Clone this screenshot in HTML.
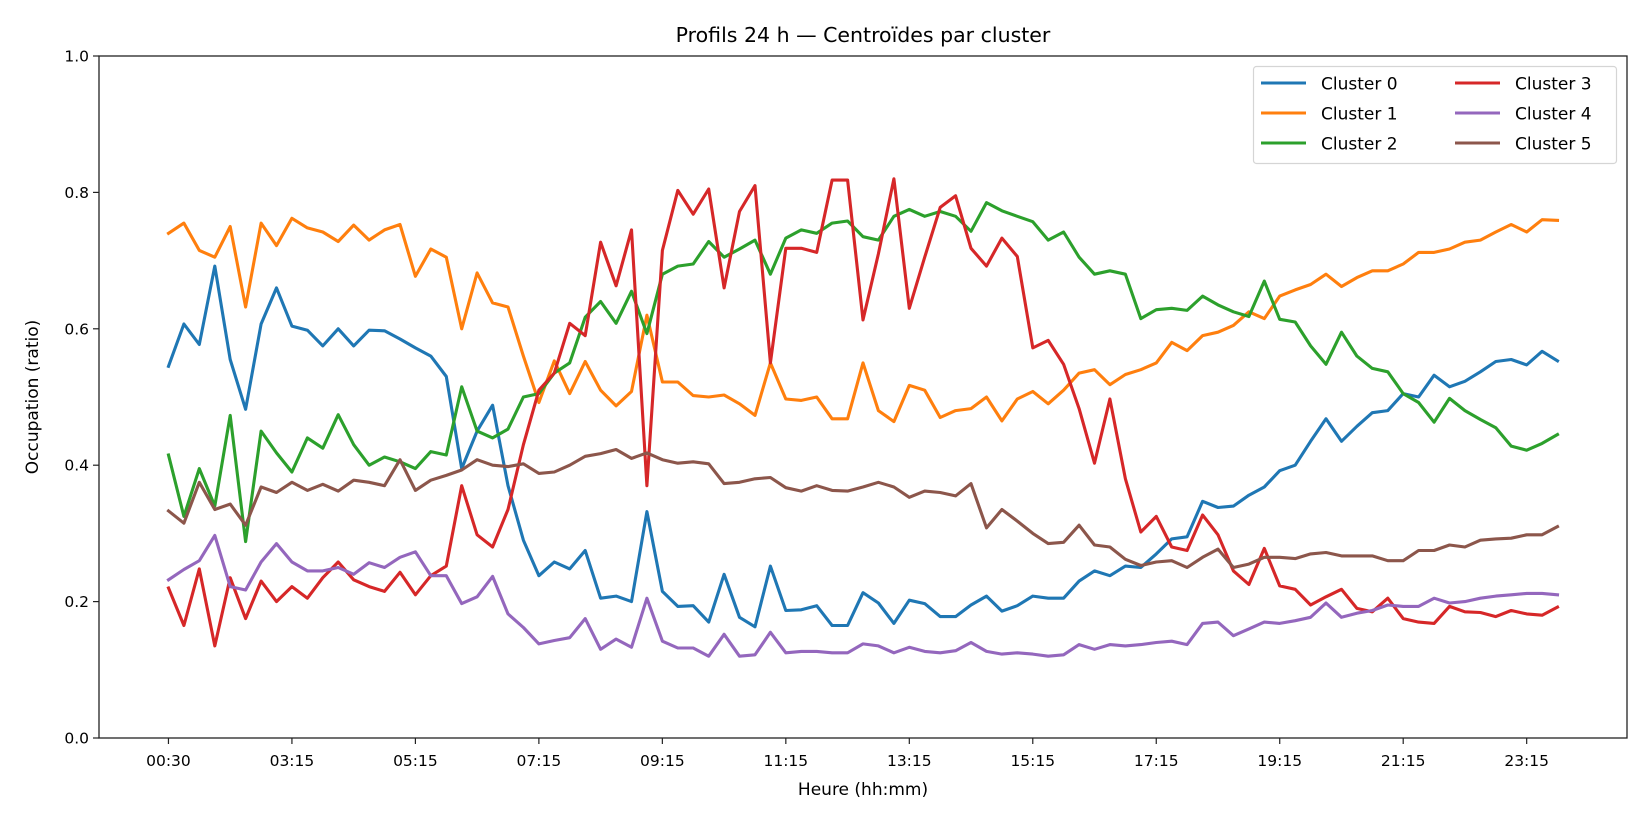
<!DOCTYPE html>
<html><head><meta charset="utf-8">
<style>
html,body{margin:0;padding:0;background:#fff;}
svg{display:block;font-family:"DejaVu Sans","Liberation Sans",sans-serif;}
</style></head>
<body>
<svg id="chart" width="1650" height="825" viewBox="0 0 1650 825" xmlns="http://www.w3.org/2000/svg">
<rect x="0" y="0" width="1650" height="825" fill="#fff"/>
<text x="863" y="42" font-size="20.5" text-anchor="middle" fill="#000">Profils 24 h — Centroïdes par cluster</text>
<g id="series"></g>
<g id="axes"></g>
<rect x="99" y="56" width="1528" height="682" fill="none" stroke="#222" stroke-width="1.3"/>
<text x="863" y="795" font-size="17" text-anchor="middle">Heure (hh:mm)</text>
<text transform="translate(38,397) rotate(-90)" font-size="17" text-anchor="middle">Occupation (ratio)</text>
<g id="legend"></g>
</svg>
<script>
const tickLabels = ["00:30","03:15","05:15","07:15","09:15","11:15","13:15","15:15","17:15","19:15","21:15","23:15"];
const yTicks = [0,0.2,0.4,0.6,0.8,1.0];
const seriesNames = ["Cluster 0","Cluster 1","Cluster 2","Cluster 3","Cluster 4","Cluster 5"];
const seriesColors = ["#1f77b4","#ff7f0e","#2ca02c","#d62728","#9467bd","#8c564b"];
const cluster0 = [0.545,0.607,0.577,0.692,0.555,0.482,0.607,0.66,0.604,0.598,
0.575,0.60,0.575,0.598,0.597,0.585,0.572,0.56,0.53,0.395,
0.45,0.488,0.37,0.29,0.238,0.258,0.248,0.275,0.205,0.208,
0.20,0.332,0.215,0.193,0.194,0.17,0.24,0.177,0.163,0.252,
0.187,0.188,0.194,0.165,0.165,0.213,0.198,0.168,0.202,0.197,
0.178,0.178,0.195,0.208,0.186,0.194,0.208,0.205,0.205,0.23,
0.245,0.238,0.252,0.25,0.27,0.292,0.295,0.347,0.338,0.34,
0.356,0.368,0.392,0.40,0.435,0.468,0.435,0.457,0.477,0.48,
0.505,0.50,0.532,0.515,0.523,0.537,0.552,0.555,0.547,0.567,0.553];
const cluster1 = [0.74,0.755,0.715,0.705,0.75,0.632,0.755,0.722,0.762,0.748,
0.742,0.728,0.752,0.73,0.745,0.753,0.677,0.717,0.705,0.60,
0.682,0.638,0.632,0.56,0.492,0.553,0.505,0.552,0.51,0.487,
0.508,0.62,0.522,0.522,0.502,0.50,0.503,0.49,0.473,0.55,
0.497,0.495,0.5,0.468,0.468,0.55,0.48,0.464,0.517,0.51,
0.47,0.48,0.483,0.50,0.465,0.497,0.508,0.49,0.51,0.535,
0.54,0.518,0.533,0.54,0.55,0.58,0.568,0.59,0.595,0.605,
0.625,0.615,0.648,0.657,0.665,0.68,0.662,0.675,0.685,0.685,
0.695,0.712,0.712,0.717,0.727,0.73,0.742,0.753,0.742,0.76,0.759];
const cluster2 = [0.415,0.325,0.395,0.34,0.473,0.288,0.45,0.418,0.39,0.44,
0.425,0.474,0.43,0.40,0.412,0.405,0.395,0.42,0.415,0.515,
0.45,0.44,0.453,0.50,0.505,0.535,0.55,0.617,0.64,0.608,
0.655,0.593,0.68,0.692,0.695,0.728,0.705,0.717,0.73,0.68,
0.733,0.745,0.74,0.755,0.758,0.735,0.73,0.765,0.775,0.765,
0.772,0.765,0.743,0.785,0.773,0.765,0.757,0.73,0.742,0.705,
0.68,0.685,0.68,0.615,0.628,0.63,0.627,0.648,0.635,0.625,
0.618,0.67,0.614,0.61,0.575,0.548,0.595,0.56,0.542,0.537,
0.505,0.492,0.463,0.498,0.48,0.467,0.455,0.428,0.422,0.432,0.445];
const cluster3 = [0.22,0.165,0.248,0.135,0.235,0.175,0.23,0.2,0.222,0.205,
0.235,0.258,0.232,0.222,0.215,0.243,0.21,0.238,0.252,0.37,
0.298,0.28,0.335,0.43,0.51,0.535,0.608,0.59,0.727,0.663,
0.745,0.37,0.715,0.803,0.768,0.805,0.66,0.772,0.81,0.55,
0.718,0.718,0.712,0.818,0.818,0.613,0.71,0.82,0.63,0.705,
0.778,0.795,0.718,0.692,0.733,0.706,0.572,0.583,0.548,0.483,
0.403,0.497,0.38,0.302,0.325,0.28,0.275,0.327,0.298,0.245,
0.225,0.278,0.223,0.218,0.195,0.207,0.218,0.19,0.185,0.205,
0.175,0.17,0.168,0.193,0.185,0.184,0.178,0.187,0.182,0.18,0.192];
const cluster4 = [0.232,0.247,0.26,0.297,0.222,0.217,0.258,0.285,0.258,0.245,
0.245,0.25,0.24,0.257,0.25,0.265,0.273,0.238,0.238,0.197,
0.207,0.237,0.182,0.162,0.138,0.143,0.147,0.175,0.13,0.145,
0.133,0.205,0.142,0.132,0.132,0.12,0.152,0.12,0.122,0.155,
0.125,0.127,0.127,0.125,0.125,0.138,0.135,0.125,0.133,0.127,
0.125,0.128,0.14,0.127,0.123,0.125,0.123,0.12,0.122,0.137,
0.13,0.137,0.135,0.137,0.14,0.142,0.137,0.168,0.17,0.15,
0.16,0.17,0.168,0.172,0.177,0.198,0.177,0.183,0.187,0.195,
0.193,0.193,0.205,0.198,0.2,0.205,0.208,0.21,0.212,0.212,0.21];
const cluster5 = [0.333,0.315,0.375,0.335,0.343,0.312,0.368,0.36,0.375,0.363,
0.372,0.362,0.378,0.375,0.37,0.408,0.363,0.378,0.385,0.393,
0.408,0.4,0.398,0.402,0.388,0.39,0.4,0.413,0.417,0.423,
0.41,0.418,0.408,0.403,0.405,0.402,0.373,0.375,0.38,0.382,
0.367,0.362,0.37,0.363,0.362,0.368,0.375,0.368,0.353,0.362,
0.36,0.355,0.373,0.308,0.335,0.318,0.3,0.285,0.287,0.312,
0.283,0.28,0.262,0.253,0.258,0.26,0.25,0.265,0.277,0.25,
0.255,0.265,0.265,0.263,0.27,0.272,0.267,0.267,0.267,0.26,
0.26,0.275,0.275,0.283,0.28,0.29,0.292,0.293,0.298,0.298,0.31];
const allSeries = [cluster0,cluster1,cluster2,cluster3,cluster4,cluster5];
const tickEvery = 8;

const NS = "http://www.w3.org/2000/svg";
const PL = 99, PR = 1627, PT = 56, PB = 738;
const n = cluster0.length;
const pad = (n - 1) * 0.05;
function xScale(i){ return PL + (i + pad) / ((n - 1) + 2 * pad) * (PR - PL); }
function yScale(v){ return PB - v * (PB - PT); }
function mk(tag, attrs, parent){
  const e = document.createElementNS(NS, tag);
  for (const k in attrs) e.setAttribute(k, attrs[k]);
  parent.appendChild(e); return e;
}
const axes = document.getElementById('axes');
tickLabels.forEach((lab, k) => {
  const x = xScale(k * tickEvery);
  const t = mk('line', {x1:x, x2:x, y1:PB, y2:PB+6, stroke:'#222', 'stroke-width':1.2}, axes);
  
  
  const tx = mk('text', {x:x, y:PB+28, 'font-size':15.5, 'text-anchor':'middle'}, axes);
  tx.textContent = lab;
  
  
});
yTicks.forEach(v => {
  const y = yScale(v);
  const t = mk('line', {x1:PL-6, x2:PL, y1:y, y2:y, stroke:'#222', 'stroke-width':1.2}, axes);
  
  
  const tx = mk('text', {x:PL-10, y:y+5.5, 'font-size':15.5, 'text-anchor':'end'}, axes);
  tx.textContent = v.toFixed(1);
  
  
});
const sg = document.getElementById('series');
allSeries.forEach((data, s) => {
  const pts = data.map((v, i) => xScale(i).toFixed(1) + ',' + yScale(v).toFixed(1)).join(' ');
  const pl = mk('polyline', {points:pts, fill:'none', stroke:seriesColors[s], 'stroke-width':3.1, 'stroke-linejoin':'round', 'stroke-linecap':'square'}, sg);
  
  
});
const lg = document.getElementById('legend');
const box = mk('rect', {x:1253.5, y:66.5, width:363, height:97, rx:3, fill:'#fff', 'fill-opacity':0.8, stroke:'#d5d5d5', 'stroke-width':1.2}, lg);


seriesNames.forEach((name, s) => {
  const col = Math.floor(s / 3), row = s % 3;
  const x0 = col === 0 ? 1261 : 1455;
  const y = 83 + row * 30;
  const g = mk('g', {}, lg);
  
  
  mk('line', {x1:x0, x2:x0+45, y1:y, y2:y, stroke:seriesColors[s], 'stroke-width':3.1}, g);
  const t = mk('text', {x:x0+60, y:y+6.5, 'font-size':17}, g);
  t.textContent = name;
});
</script>
</body></html>
